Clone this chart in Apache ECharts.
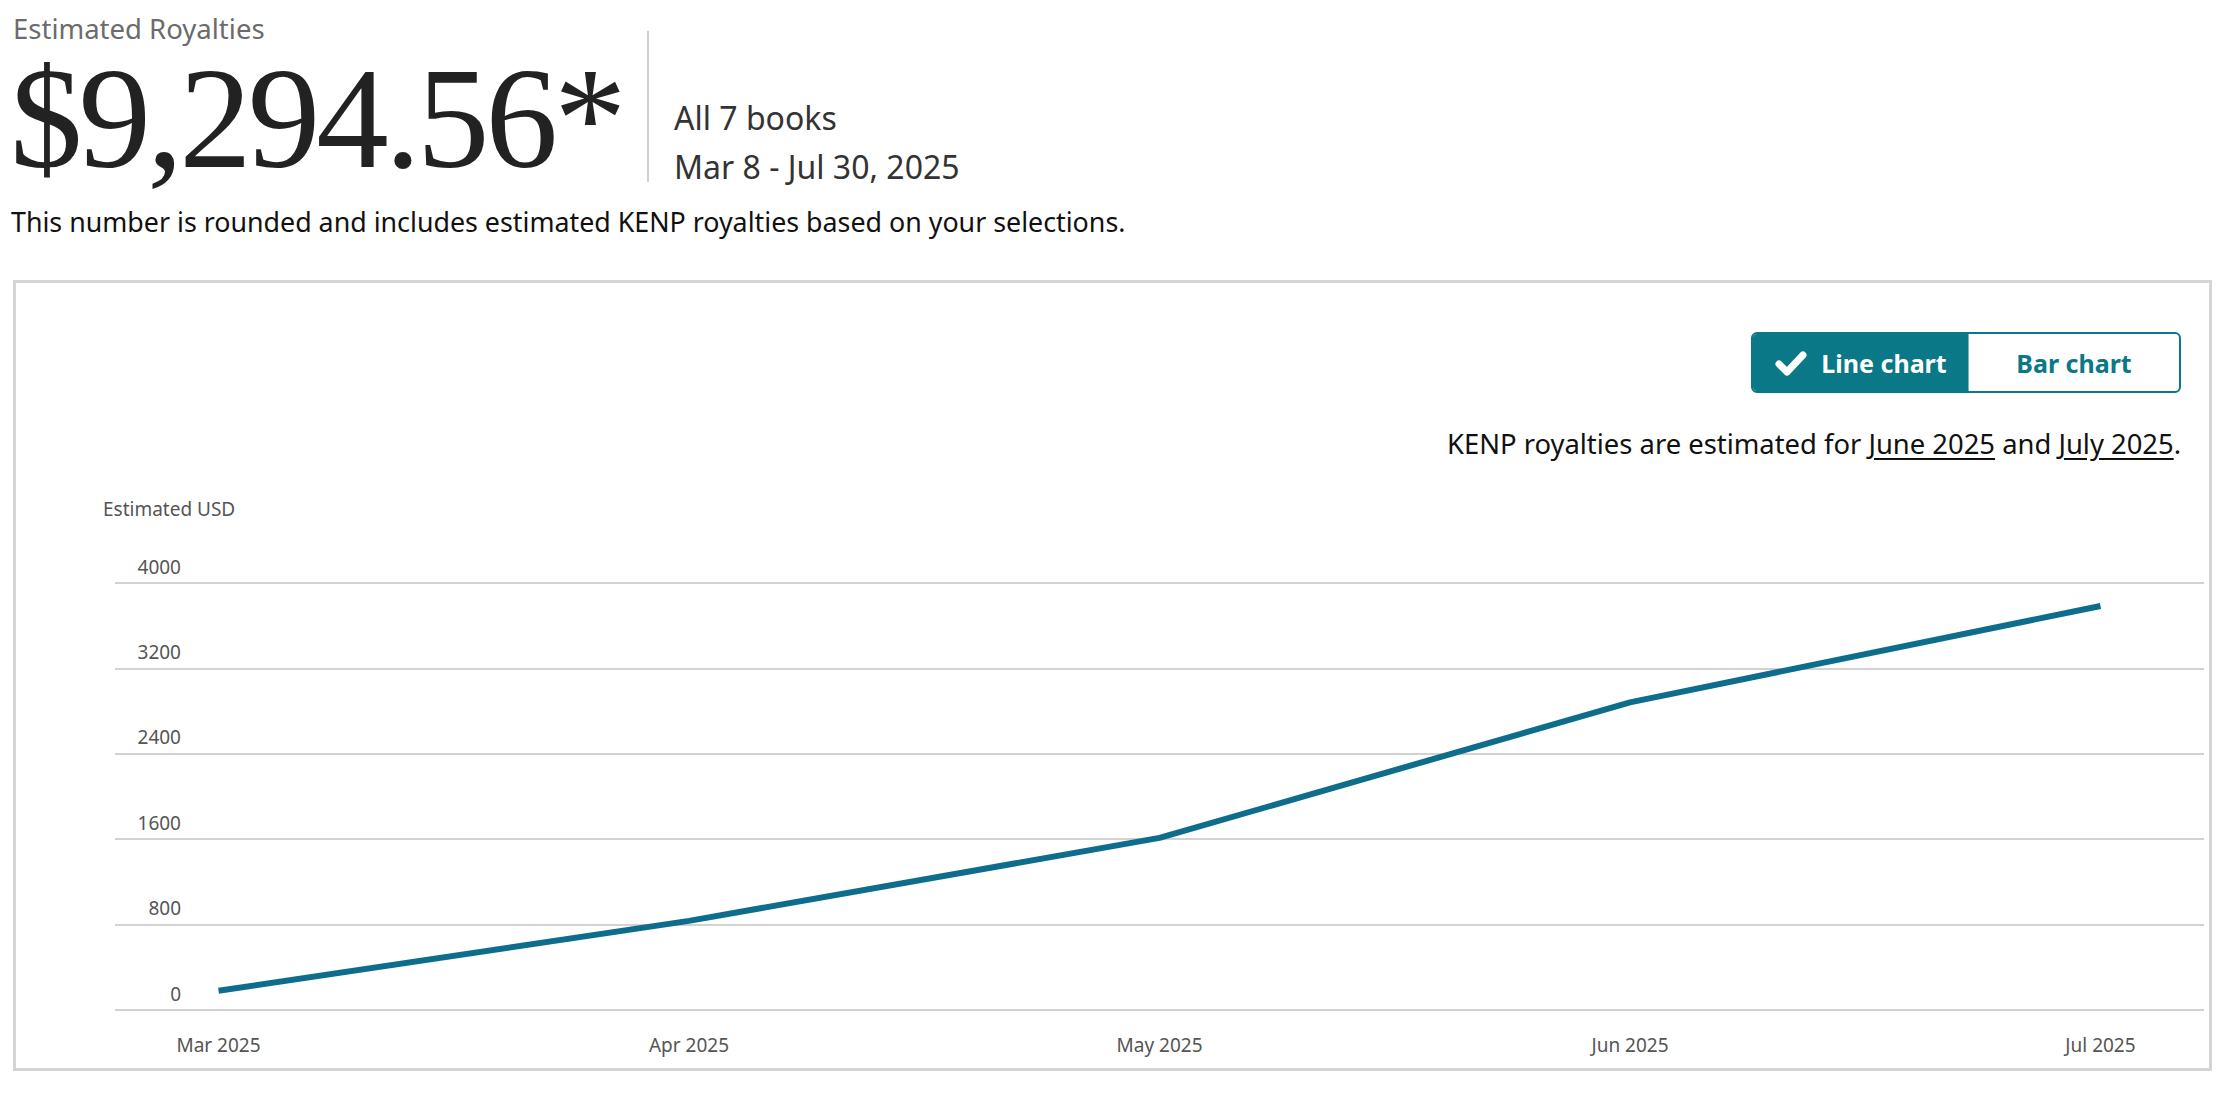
<!DOCTYPE html>
<html>
<head>
<meta charset="utf-8">
<title>Estimated Royalties</title>
<script src="https://cdn.jsdelivr.net/npm/echarts@6/dist/echarts.min.js"></script>
<style>
  html, body { margin: 0; padding: 0; background: #fff; }
  body { width: 2234px; height: 1104px; position: relative; overflow: hidden; font-family: "Noto Sans", sans-serif; color: #111; }
  .abs { position: absolute; white-space: nowrap; }
  #chart { position: absolute; left: 0; top: 0; width: 2234px; height: 1104px; }
  .label { left: 13px; top: 13px; font-size: 27.5px; line-height: 32px; color: #6b6b6b; }
  .total { left: 10px; top: 68px; font-family: "Liberation Serif", serif; font-size: 145px; line-height: 100px; color: #222; letter-spacing: -4px; }
  .divider { left: 647px; top: 31px; width: 2px; height: 151px; background: #cfcfcf; }
  .books { left: 674px; font-size: 32px; line-height: 38px; color: #333; }
  .note { left: 11px; top: 206px; font-size: 26.8px; line-height: 32px; color: #111; }
  .box { left: 13px; top: 280px; width: 2199px; height: 791px; box-sizing: border-box; border: 3px solid #d5d5d5; }
  .toggle { left: 1751px; top: 332px; width: 430px; height: 61px; box-sizing: border-box; border: 2px solid #0a7886; border-radius: 6px; display: flex; overflow: hidden; z-index: 2; background: #fff; }
  .toggle div { display: flex; align-items: center; justify-content: center; font-size: 25px; font-weight: bold; }
  .toggle .on { width: 215px; background: #0a7886; color: #fff; }
  .toggle .off { flex: 1; color: #0a7886; border-left: 1px solid #7fb3ba; }
  .toggle svg { margin-right: 13px; }
  .kenp { right: 53px; top: 428px; font-size: 27.4px; line-height: 32px; color: #111; z-index: 2; }
  .kenp u { text-underline-offset: 4px; }
</style>
</head>
<body>
<div class="abs box"></div>
<div id="chart"></div>
<div class="abs label">Estimated Royalties</div>
<div class="abs total">$9,294.56*</div>
<div class="abs divider"></div>
<div class="abs books" style="top:99px">All 7 books</div>
<div class="abs books" style="top:148px">Mar 8 - Jul 30, 2025</div>
<div class="abs note">This number is rounded and includes estimated KENP royalties based on your selections.</div>
<div class="abs toggle">
  <div class="on"><svg width="34" height="28" viewBox="0 0 34 28"><polyline points="5,15 13,23 29,6" fill="none" stroke="#fff" stroke-width="7" stroke-linecap="round" stroke-linejoin="round"/></svg>Line chart</div>
  <div class="off">Bar chart</div>
</div>
<div class="abs kenp">KENP royalties are estimated for <u>June 2025</u> and <u>July 2025</u>.</div>
<script>
'use strict';

// monthly estimated royalties (USD)
const months = ["Mar 2025", "Apr 2025", "May 2025", "Jun 2025", "Jul 2025"];
const royalties = [180, 835, 1612, 2882, 3785];
const yTicks = [0, 800, 1600, 2400, 3200, 4000];

const axisFont = '"Noto Sans", sans-serif';

function makeChart() {
  const option = {
    animation: false,
    title: {
      text: 'Estimated USD',
      left: 98,
      top: 494,
      textStyle: {
        fontFamily: axisFont,
        fontSize: 19,
        fontWeight: 'normal',
        color: '#555'
      }
    },
    grid: {
      left: 115,
      right: 30,
      top: 583,
      bottom: 94
    },
    xAxis: {
      type: 'value',
      min: -0.22,
      max: 4.22,
      axisLine: { show: false },
      axisTick: { show: false },
      splitLine: { show: false },
      axisLabel: {
        customValues: months.map((m, i) => i),
        formatter: function (value) {
          return months[value];
        },
        margin: 25,
        fontFamily: axisFont,
        fontSize: 19,
        color: '#555'
      }
    },
    yAxis: {
      type: 'value',
      min: yTicks[0],
      max: yTicks[yTicks.length - 1],
      interval: yTicks[1] - yTicks[0],
      axisLine: { show: false },
      axisTick: { show: false },
      axisLabel: {
        margin: -66,
        verticalAlign: 'bottom',
        padding: [0, 0, 7, 0],
        formatter: function (value) {
          return String(value);
        },
        fontFamily: axisFont,
        fontSize: 19,
        color: '#555'
      },
      splitLine: {
        lineStyle: { color: '#d2d2d2', width: 2 }
      }
    },
    series: [{
      type: 'line',
      showSymbol: false,
      lineStyle: { color: '#0e6d8c', width: 6, cap: 'butt' },
      data: months.map((m, i) => [i, royalties[i]])
    }]
  };
  const chart = echarts.init(document.getElementById('chart'), null, { renderer: 'svg' });
  chart.setOption(option);
}

makeChart();
</script>
</body>
</html>
